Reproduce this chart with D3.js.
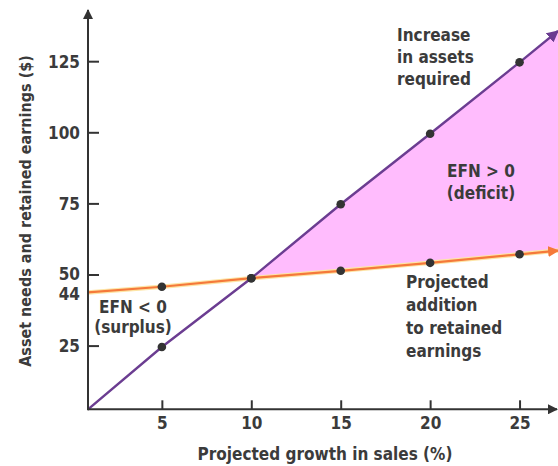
<!DOCTYPE html>
<html>
<head>
<meta charset="utf-8">
<title>EFN chart</title>
<script src="https://d3js.org/d3.v7.min.js"></script>
<style>
  html, body { margin: 0; padding: 0; background: #fff; }
  text {
    font-family: "Liberation Sans Narrow", "DejaVu Sans Condensed", "Liberation Sans", sans-serif;
    font-weight: bold;
    fill: #3b3b3b;
  }
  .tick line { stroke: #333; stroke-width: 2; }
  .tick text { font-size: 17px; }
</style>
</head>
<body>
<div id="chart"></div>
<script>
// values
var growth = [5, 10, 15, 20, 25];
var assetsNeeded = [24.5, 48.7, 74.7, 99.5, 124.6];
var retainedAdd = [45.7, 48.7, 51.3, 54.1, 57.1];
// where the two lines leave the plot (left and right edge)
var growthEnds = [0.87, 27.15];
var assetsEnds = [2.6, 135.6];
var retainedEnds = [43.7, 58.4];
var xTicks = [5, 10, 15, 20, 25];
var yTicks = [25, 44, 50, 75, 100, 125];

var W = 558, H = 466;
var pLeft = 88, pRight = 558, pTop = 10, pBottom = 409.3;

var svg = d3.select('#chart').append('svg')
  .attr('width', W).attr('height', H);

var defs = svg.append('defs');
function arrow(id, col) {
  defs.append('marker')
    .attr('id', id)
    .attr('viewBox', '0 0 10 10')
    .attr('refX', 9).attr('refY', 5)
    .attr('markerWidth', 5).attr('markerHeight', 5)
    .attr('markerUnits', 'strokeWidth')
    .attr('orient', 'auto')
    .append('path').attr('d', 'M0,0 L10,5 L0,10 z').attr('fill', col);
}
arrow('arAxis', '#333');
arrow('arPurple', '#6b3d91');
arrow('arOrange', '#f5793a');

var x = d3.scaleLinear().domain([growthEnds[0], growthEnds[1]]).range([pLeft, pRight]);
var y = d3.scaleLinear().domain([2.6, 143]).range([pBottom, pTop]);

// point lists for each line
var assetPts = [[growthEnds[0], assetsEnds[0]]]
  .concat(growth.map(function(g, i) { return [g, assetsNeeded[i]]; }))
  .concat([[growthEnds[1], assetsEnds[1]]]);
var retPts = [[growthEnds[0], retainedEnds[0]]]
  .concat(growth.map(function(g, i) { return [g, retainedAdd[i]]; }))
  .concat([[growthEnds[1], retainedEnds[1]]]);

// deficit area, from crossing point (10) to the right edge
var areaPts = [];
growth.forEach(function(g, i) {
  if (g >= 10) areaPts.push({x: g, lo: retainedAdd[i], hi: assetsNeeded[i]});
});
areaPts.push({x: growthEnds[1], lo: retainedEnds[1], hi: assetsEnds[1]});

svg.append('path')
  .datum(areaPts)
  .attr('fill', '#ffbcfd')
  .attr('d', d3.area()
    .x(function(d) { return x(d.x); })
    .y0(function(d) { return y(d.lo); })
    .y1(function(d) { return y(d.hi); }));

var line = d3.line()
  .x(function(d) { return x(d[0]); })
  .y(function(d) { return y(d[1]); });

// orange glow + line
svg.append('path').datum(retPts)
  .attr('fill', 'none').attr('stroke', '#fde5a6').attr('stroke-width', 4.5)
  .attr('d', line);
svg.append('path').datum(retPts)
  .attr('fill', 'none').attr('stroke', '#f5793a').attr('stroke-width', 2.2)
  .attr('marker-end', 'url(#arOrange)')
  .attr('d', line);

svg.append('path').datum(assetPts)
  .attr('fill', 'none').attr('stroke', '#6b3d91').attr('stroke-width', 2.4)
  .attr('marker-end', 'url(#arPurple)')
  .attr('d', line);

// dots
var dots = growth.map(function(g, i) { return [g, assetsNeeded[i]]; })
  .concat(growth.map(function(g, i) { return [g, retainedAdd[i]]; }));
svg.selectAll('circle.dot')
  .data(dots)
  .enter().append('circle')
    .attr('class', 'dot')
    .attr('cx', function(d) { return x(d[0]); })
    .attr('cy', function(d) { return y(d[1]); })
    .attr('r', 4.3)
    .attr('fill', '#333');

// axes
var gx = svg.append('g')
  .attr('transform', 'translate(0,' + pBottom + ')')
  .call(d3.axisBottom(x).tickValues(xTicks).tickSizeInner(-9).tickSizeOuter(0).tickPadding(8));
gx.select('.domain').remove();

var gy = svg.append('g')
  .attr('transform', 'translate(' + pLeft + ',0)')
  .call(d3.axisLeft(y).tickValues(yTicks).tickSizeInner(-11).tickSizeOuter(0).tickPadding(8));
gy.select('.domain').remove();
gy.selectAll('.tick').filter(function(d) { return d === 44; }).select('line').remove();
gy.selectAll('.tick text').attr('dy', function(d) {
  // 50 and 44 sit very close, nudge them apart a little
  if (d === 50) return '0.28em';
  if (d === 44) return '0.44em';
  return '0.36em';
});

svg.append('line')
  .attr('x1', pLeft).attr('y1', pBottom).attr('x2', pRight - 1).attr('y2', pBottom)
  .attr('stroke', '#333').attr('stroke-width', 2)
  .attr('marker-end', 'url(#arAxis)');
svg.append('line')
  .attr('x1', pLeft).attr('y1', pBottom + 1).attr('x2', pLeft).attr('y2', pTop)
  .attr('stroke', '#333').attr('stroke-width', 2)
  .attr('marker-end', 'url(#arAxis)');

// axis titles
svg.append('text')
  .attr('x', 325).attr('y', 460)
  .attr('text-anchor', 'middle')
  .style('font-size', '17px')
  .text('Projected growth in sales (%)');

svg.append('text')
  .attr('transform', 'translate(31,211) rotate(-90)')
  .attr('text-anchor', 'middle')
  .style('font-size', '16px')
  .text('Asset needs and retained earnings ($)');

// annotations
function block(lines, xx, yy, step, anchor) {
  var t = svg.append('text')
    .attr('text-anchor', anchor)
    .style('font-size', '17px');
  lines.forEach(function(s, i) {
    t.append('tspan').attr('x', xx).attr('y', yy + i * step).text(s);
  });
}
block(['Increase', 'in assets', 'required'], 397, 41, 22, 'start');
block(['EFN > 0', '(deficit)'], 481, 177, 22, 'middle');
block(['EFN < 0', '(surplus)'], 133, 313, 20, 'middle');
block(['Projected', 'addition', 'to retained', 'earnings'], 406, 288, 23, 'start');
</script>
</body>
</html>
